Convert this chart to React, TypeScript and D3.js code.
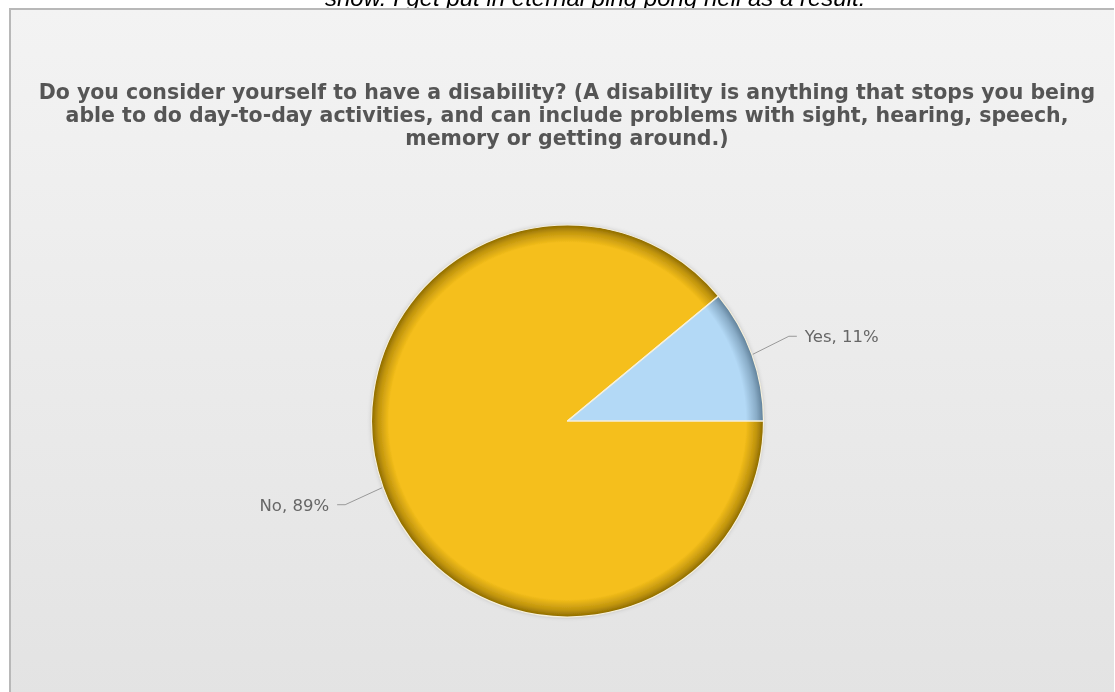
import React from "react";
import * as d3 from "d3";

const categories = ["Yes", "No"];
const values = [11, 89];
const colors = ["#b3d9f6", "#f5bf1b"];
const rimColors = ["#5f7f98", "#8c6a00"];
const titleLines = [
  "Do you consider yourself to have a disability? (A disability is anything that stops you being",
  "able to do day-to-day activities, and can include problems with sight, hearing, speech,",
  "memory or getting around.)",
];
const topText = "show. I get put in eternal ping pong hell as a result.";

const W = 1115;
const H = 692;
const cx = 567.5;
const cy = 421;
const R = 196;

export default function App() {
  const data = categories.map((c, i) => ({ c, v: values[i], i }));
  const pie = d3
    .pie<any>()
    .value((d) => d.v)
    .sort(null)
    .startAngle(Math.PI / 2)
    .endAngle(Math.PI / 2 - 2 * Math.PI);
  const arcs = pie(data);
  const arc = d3.arc<any>().innerRadius(0).outerRadius(R);

  return (
    <svg
      width={W}
      height={H}
      style={{ position: "fixed", left: 0, top: 0, display: "block" }}
    >
      <defs>
        <linearGradient id="bg" x1="0" y1="0" x2="0" y2="1">
          <stop offset="0" stopColor="#f3f3f3" />
          <stop offset="1" stopColor="#e3e3e3" />
        </linearGradient>
        {data.map((d) => (
          <radialGradient
            key={d.c}
            id={"g" + d.i}
            gradientUnits="userSpaceOnUse"
            cx={0}
            cy={0}
            r={R}
          >
            <stop offset="0" stopColor={colors[d.i]} />
            <stop offset="0.91" stopColor={colors[d.i]} />
            <stop offset="0.965" stopColor={d3.interpolateRgb(colors[d.i], rimColors[d.i])(0.5)} />
            <stop offset="1" stopColor={rimColors[d.i]} />
          </radialGradient>
        ))}
        <filter id="shadow" x="-10%" y="-10%" width="120%" height="120%">
          <feGaussianBlur in="SourceAlpha" stdDeviation="2" result="b" />
          <feFlood floodColor="#000" floodOpacity="0.2" />
          <feComposite in2="b" operator="in" />
          <feMerge>
            <feMergeNode />
            <feMergeNode in="SourceGraphic" />
          </feMerge>
        </filter>
      </defs>
      <rect x={0} y={0} width={W} height={H} fill="#ffffff" />
      <text
        x={325}
        y={6}
        fontFamily="'Liberation Sans', Arial, sans-serif"
        fontStyle="italic"
        fontSize={24}
        fill="#000"
      >
        {topText}
      </text>
      <rect x={9} y={8} width={1105} height={H} fill="url(#bg)" />
      <line x1={9} y1={9} x2={1114} y2={9} stroke="#b8b8b8" strokeWidth={2} />
      <line x1={10} y1={8} x2={10} y2={H} stroke="#b8b8b8" strokeWidth={2} />
      {titleLines.map((t, i) => (
        <text
          key={i}
          x={567}
          y={99 + i * 23}
          textAnchor="middle"
          fontFamily="'DejaVu Sans', Verdana, sans-serif"
          fontWeight="bold"
          fontSize={20.5}
          fill="#555555"
        >
          {t}
        </text>
      ))}
      <g transform={`translate(${cx},${cy})`}>
        <g filter="url(#shadow)">
          {arcs.map((a: any) => (
            <path key={a.data.c} d={arc(a) as string} fill={`url(#g${a.data.i})`} />
          ))}
        </g>
        {arcs.map((a: any) => (
          <path
            key={"s" + a.data.c}
            d={arc(a) as string}
            fill="none"
            stroke="#f6f0dc"
            strokeWidth={1.2}
            strokeLinejoin="round"
          />
        ))}
      </g>
      {arcs.map((a: any) => {
        const mid = (a.startAngle + a.endAngle) / 2;
        const sx = cx + Math.sin(mid) * (R + 1);
        const sy = cy - Math.cos(mid) * (R + 1);
        const right = Math.sin(mid) > 0;
        const ex = sx + (right ? 36 : -37);
        const ey = sy + (right ? -18 : 17);
        const hx = ex + (right ? 8 : -8);
        return (
          <g key={"l" + a.data.c}>
            <polyline
              points={`${sx},${sy} ${ex},${ey} ${hx},${ey}`}
              fill="none"
              stroke="#999"
              strokeWidth={1}
            />
            <text
              x={hx + (right ? 8 : -8)}
              y={ey + 6}
              textAnchor={right ? "start" : "end"}
              fontFamily="'DejaVu Sans', Verdana, sans-serif"
              fontSize={16.5}
              fill="#666"
            >
              {`${a.data.c}, ${a.data.v}%`}
            </text>
          </g>
        );
      })}
    </svg>
  );
}
